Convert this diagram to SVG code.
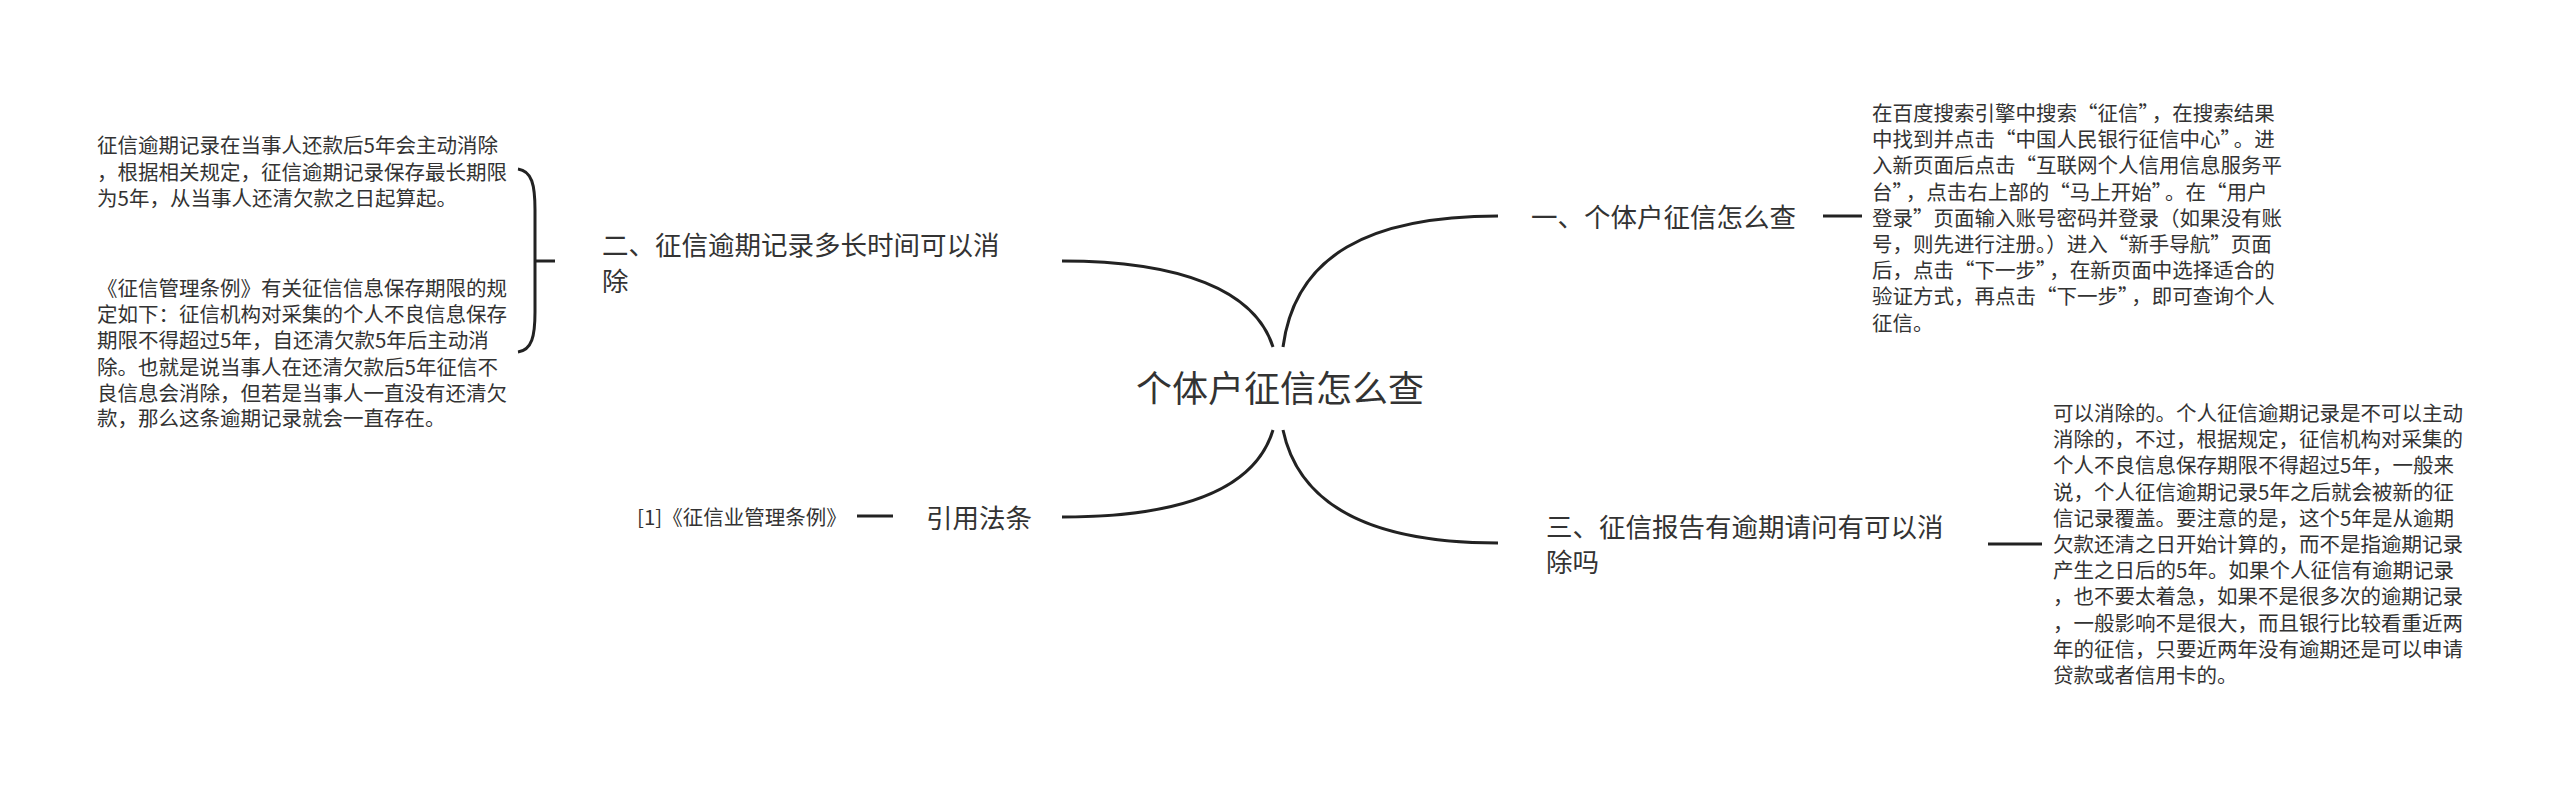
<svg xmlns="http://www.w3.org/2000/svg" width="2560" height="786" viewBox="0 0 2560 786">
<style>
text{font-family:"Noto Sans CJK SC","Noto Sans",sans-serif;fill:#333;}
.c{font-size:36px;}
.m{font-size:26.5px;}
.s{font-size:20.5px;}
.ln{fill:none;stroke:#222;stroke-width:3;stroke-linecap:butt;}
</style>
<rect x="0" y="0" width="2560" height="786" fill="#fff"/>
<g id="connectors">
<path class="ln" d="M1273,347 C1255,290 1180,261 1062,261"/>
<path class="ln" d="M1283,347 C1295,255 1370,216 1498,216"/>
<path class="ln" d="M1273,430 C1255,490 1180,517 1062,517"/>
<path class="ln" d="M1283,430 C1300,510 1380,543 1498,543"/>
<path class="ln" d="M1823,216 L1862,216"/>
<path class="ln" d="M1988,544 L2042,544"/>
<path class="ln" d="M857,516 L893,516"/>
<path class="ln" d="M518,169 C532,171 535,185 535,210 L535,312 C535,336 532,350 518,352"/>
<path class="ln" d="M535,261 L555,261"/>
</g>
<g id="center">
<text class="c" x="1280" y="401.5" text-anchor="middle">个体户征信怎么查</text>
</g>
<g id="node1">
<text class="m" x="1531" y="227">一、个体户征信怎么查</text>
</g>
<g id="node1-detail">
<text class="s" x="1872" y="121">在百度搜索引擎中搜索“征信”<tspan dx="3">，</tspan>在搜索结果</text>
<text class="s" x="1872" y="147.2">中找到并点击“中国人民银行征信中心”<tspan dx="3">。</tspan>进</text>
<text class="s" x="1872" y="173.4">入新页面后点击“互联网个人信用信息服务平</text>
<text class="s" x="1872" y="199.6">台”<tspan dx="3">，</tspan>点击右上部的“马上开始”<tspan dx="3">。</tspan>在“用户</text>
<text class="s" x="1872" y="225.8">登录”页面输入账号密码并登录（如果没有账</text>
<text class="s" x="1872" y="252">号，则先进行注册。）进入“新手导航”页面</text>
<text class="s" x="1872" y="278.2">后，点击“下一步”<tspan dx="3">，</tspan>在新页面中选择适合的</text>
<text class="s" x="1872" y="304.4">验证方式，再点击“下一步”<tspan dx="3">，</tspan>即可查询个人</text>
<text class="s" x="1872" y="330.6">征信。</text>
</g>
<g id="node2">
<text class="m" x="602" y="255">二、征信逾期记录多长时间可以消</text>
<text class="m" x="602" y="291">除</text>
</g>
<g id="node2-detail-a">
<text class="s" x="97" y="153">征信逾期记录在当事人还款后5年会主动消除</text>
<text class="s" x="97" y="179.5">，根据相关规定，征信逾期记录保存最长期限</text>
<text class="s" x="97" y="206">为5年，从当事人还清欠款之日起算起。</text>
</g>
<g id="node2-detail-b">
<text class="s" x="97" y="296">《征信管理条例》有关征信信息保存期限的规</text>
<text class="s" x="97" y="322">定如下：征信机构对采集的个人不良信息保存</text>
<text class="s" x="97" y="348">期限不得超过5年，自还清欠款5年后主动消</text>
<text class="s" x="97" y="374.5">除。也就是说当事人在还清欠款后5年征信不</text>
<text class="s" x="97" y="400.5">良信息会消除，但若是当事人一直没有还清欠</text>
<text class="s" x="97" y="426">款，那么这条逾期记录就会一直存在。</text>
</g>
<g id="node3">
<text class="m" x="1546" y="537">三、征信报告有逾期请问有可以消</text>
<text class="m" x="1546" y="572">除吗</text>
</g>
<g id="node3-detail">
<text class="s" x="2053" y="421">可以消除的。个人征信逾期记录是不可以主动</text>
<text class="s" x="2053" y="447.2">消除的，不过，根据规定，征信机构对采集的</text>
<text class="s" x="2053" y="473.4">个人不良信息保存期限不得超过5年，一般来</text>
<text class="s" x="2053" y="499.6">说，个人征信逾期记录5年之后就会被新的征</text>
<text class="s" x="2053" y="525.8">信记录覆盖。要注意的是，这个5年是从逾期</text>
<text class="s" x="2053" y="552">欠款还清之日开始计算的，而不是指逾期记录</text>
<text class="s" x="2053" y="578.2">产生之日后的5年。如果个人征信有逾期记录</text>
<text class="s" x="2053" y="604.4">，也不要太着急，如果不是很多次的逾期记录</text>
<text class="s" x="2053" y="630.6">，一般影响不是很大，而且银行比较看重近两</text>
<text class="s" x="2053" y="656.8">年的征信，只要近两年没有逾期还是可以申请</text>
<text class="s" x="2053" y="683">贷款或者信用卡的。</text>
</g>
<g id="node4">
<text class="m" x="926" y="528">引用法条</text>
</g>
<g id="node4-detail">
<text class="s" x="637" y="525">[1]《征信业管理条例》</text>
</g>
</svg>
